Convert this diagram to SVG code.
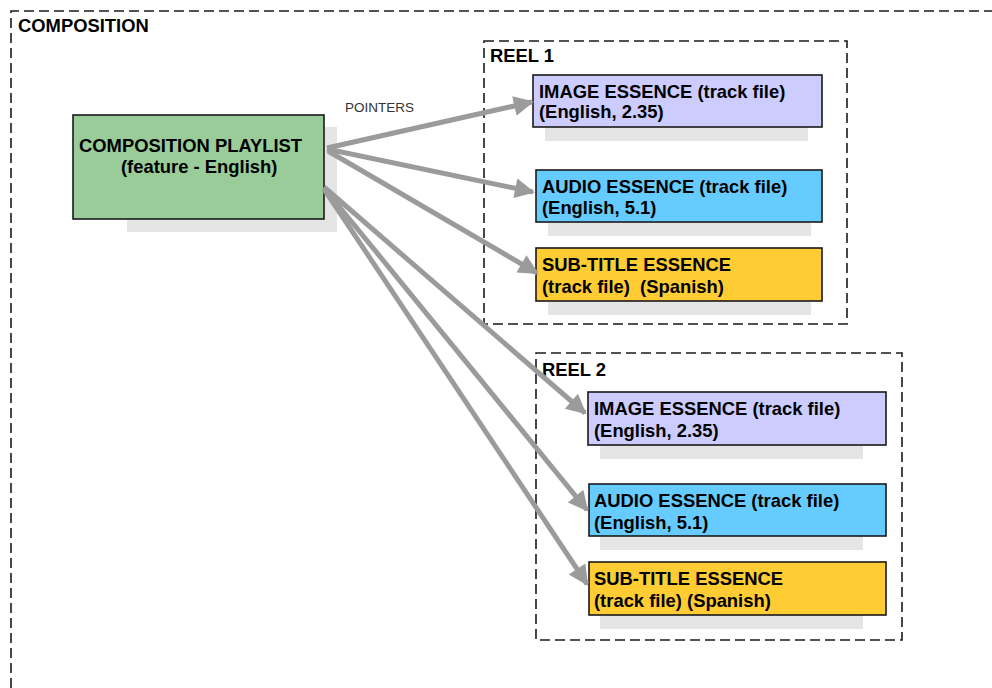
<svg xmlns="http://www.w3.org/2000/svg" width="992" height="688" viewBox="0 0 992 688">
<style>
text{font-family:"Liberation Sans",Arial,sans-serif;fill:#000}
.b{font-weight:bold;font-size:18.4px}
.frame{fill:none;stroke:#1a1a1a;stroke-width:1.6;stroke-dasharray:10 5}
.node{stroke:#1a1a1a;stroke-width:1.6}
.sh{fill:#e5e5e5}
.arr{stroke:#9b9b9b;stroke-width:5;fill:none;marker-end:url(#ah)}
</style>
<defs>
<marker id="ah" viewBox="0 0 10 10" refX="9" refY="5" markerWidth="4.6" markerHeight="4" orient="auto" markerUnits="strokeWidth">
<path d="M0,0 L10,5 L0,10 z" fill="#9b9b9b"/>
</marker>
</defs>
<rect width="992" height="688" fill="#fff"/>
<g id="composition">
<path class="frame" d="M11,688 V11 H992"/>
<text class="b" x="18" y="32">COMPOSITION</text>
</g>
<g id="reel1">
<rect class="frame" x="484" y="41" width="363" height="283"/>
<text class="b" x="490" y="62">REEL 1</text>
</g>
<g id="reel2">
<rect class="frame" x="536" y="353" width="366" height="287"/>
<text class="b" x="542" y="376">REEL 2</text>
</g>
<g id="playlist">
<rect class="sh" x="127" y="127" width="210" height="105"/>
<rect class="node" x="73" y="115" width="251" height="104" fill="#99cc99"/>
<text class="b" x="79" y="152">COMPOSITION PLAYLIST</text>
<text class="b" x="121" y="173">(feature - English)</text>
</g>
<g id="image1">
<rect class="sh" x="545" y="120" width="263" height="21"/>
<rect class="node" x="533" y="75" width="289" height="52" fill="#ccccff"/>
<text class="b" x="539" y="98">IMAGE ESSENCE (track file)</text>
<text class="b" x="539" y="118">(English, 2.35)</text>
</g>
<g id="audio1">
<rect class="sh" x="548" y="215" width="263" height="21"/>
<rect class="node" x="536" y="170" width="286" height="52" fill="#66ccff"/>
<text class="b" x="542" y="193">AUDIO ESSENCE (track file)</text>
<text class="b" x="542" y="214">(English, 5.1)</text>
</g>
<g id="subtitle1">
<rect class="sh" x="548" y="294" width="263" height="21"/>
<rect class="node" x="536" y="248" width="286" height="53" fill="#ffcc33"/>
<text class="b" x="542" y="271">SUB-TITLE ESSENCE</text>
<text class="b" x="542" y="293" xml:space="preserve">(track file)  (Spanish)</text>
</g>
<g id="image2">
<rect class="sh" x="600" y="438" width="263" height="21"/>
<rect class="node" x="588" y="392" width="298" height="53" fill="#ccccff"/>
<text class="b" x="594" y="415">IMAGE ESSENCE (track file)</text>
<text class="b" x="594" y="437">(English, 2.35)</text>
</g>
<g id="audio2">
<rect class="sh" x="600" y="529" width="263" height="21"/>
<rect class="node" x="589" y="484" width="297" height="52" fill="#66ccff"/>
<text class="b" x="594" y="507">AUDIO ESSENCE (track file)</text>
<text class="b" x="594" y="529">(English, 5.1)</text>
</g>
<g id="subtitle2">
<rect class="sh" x="600" y="608" width="263" height="21"/>
<rect class="node" x="589" y="562" width="297" height="53" fill="#ffcc33"/>
<text class="b" x="594" y="585">SUB-TITLE ESSENCE</text>
<text class="b" x="594" y="607">(track file) (Spanish)</text>
</g>
<g id="connectors">
<line class="arr" x1="327" y1="148" x2="532" y2="102"/>
<line class="arr" x1="327" y1="149" x2="533" y2="192"/>
<line class="arr" x1="328" y1="151" x2="537" y2="273"/>
<line class="arr" x1="324" y1="187" x2="585" y2="413"/>
<line class="arr" x1="324" y1="188" x2="587" y2="510"/>
<line class="arr" x1="324" y1="189" x2="587" y2="584"/>
<text x="345" y="112" font-size="13.5" style="fill:#333">POINTERS</text>
</g>
</svg>
